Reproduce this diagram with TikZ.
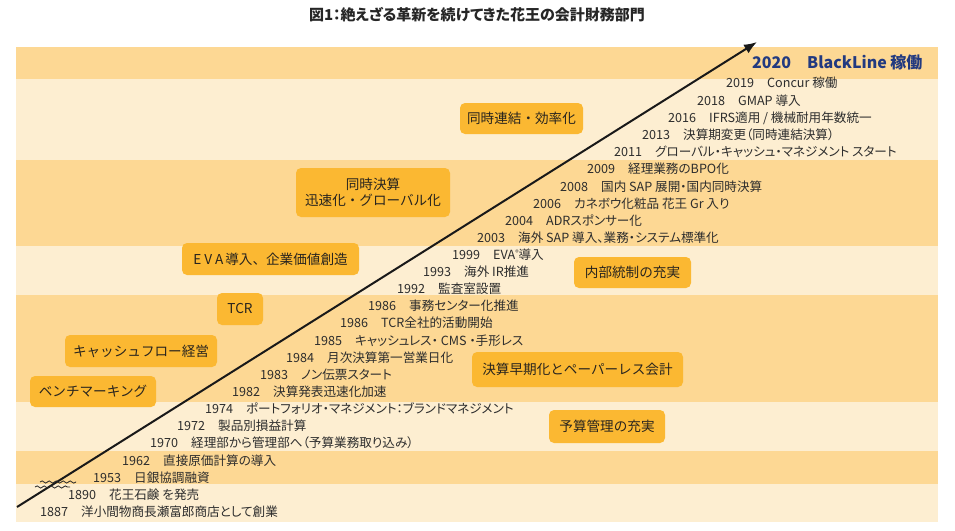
\documentclass[tikz,border=0pt]{standalone}
\usepackage{fontspec}
\setmainfont{Noto Sans CJK JP}
\newfontfamily\itemfont{Noto Sans CJK JP}[RawFeature=+palt]
\usetikzlibrary{arrows.meta,decorations.pathmorphing}
\definecolor{bandD}{RGB}{253,216,148}
\definecolor{bandL}{RGB}{253,238,209}
\definecolor{boxc}{RGB}{251,184,50}
\definecolor{txt}{RGB}{45,45,45}
\definecolor{boxtxt}{RGB}{40,36,30}
\definecolor{navy}{RGB}{34,58,128}
\newcommand\yline[2]{#1\hspace{13pt}#2}
\begin{document}
\begin{tikzpicture}[x=1pt,y=-1pt,
  item/.style={anchor=west,inner sep=0pt,text=txt,font=\itemfont\fontsize{12.6}{14}\selectfont,text height=10pt,text depth=1pt},
  tag/.style={fill=boxc,rounded corners=5pt,text=boxtxt,font=\fontsize{13.6}{16}\selectfont,inner sep=0pt,align=center},
  wave/.style={draw=black!85,line width=0.8pt,decorate,decoration={snake,segment length=7pt,amplitude=1.1pt}},
  mainarrow/.style={draw=black!90,line width=2pt,-{Latex[length=13pt,width=10pt]}}]
\useasboundingbox (0,0) rectangle (955,530);
\fill[white] (0,0) rectangle (955,530);
% bands
\fill[bandD] (16,47) rectangle (938,79);
\fill[bandL] (16,79) rectangle (938,160);
\fill[bandD] (16,160) rectangle (938,246);
\fill[bandL] (16,246) rectangle (938,295);
\fill[bandD] (16,295) rectangle (938,402);
\fill[bandL] (16,402) rectangle (938,451);
\fill[bandD] (16,451) rectangle (938,484);
\fill[bandL] (16,484) rectangle (938,522);
% title
\node[font=\itemfont\fontsize{15}{16}\bfseries\selectfont,text=black!85,inner sep=0pt] (title) at (477,15) {図1：絶えざる革新を続けてきた花王の会計財務部門};
% arrow
\coordinate (astart) at (17,507);
\coordinate (aend) at (757,42);
\draw[mainarrow] (astart) -- (aend);
\coordinate (w1a) at (40,482); \coordinate (w1b) at (76,482);
\coordinate (w2a) at (35,487); \coordinate (w2b) at (70,487);
\draw[wave] (w1a) -- (w1b);
\draw[wave] (w2a) -- (w2b);
% timeline items
\node[anchor=west,inner sep=0pt,text=navy,font=\itemfont\fontsize{16}{18}\bfseries\selectfont,text height=12pt,text depth=2pt] (y2020) at (752,63) {2020\hspace{16pt}BlackLine 稼働};
\node[item] (y2019) at (726,83) {\yline{2019}{Concur 稼働}};
\node[item] (y2018) at (697,101) {\yline{2018}{GMAP 導入}};
\node[item] (y2016) at (668,118) {\yline{2016}{IFRS適用 / 機械耐用年数統一}};
\node[item] (y2013) at (642,135) {\yline{2013}{決算期変更（同時連結決算）}};
\node[item] (y2011) at (614,152) {\yline{2011}{グローバル・キャッシュ・マネジメント スタート}};
\node[item] (y2009) at (587,169) {\yline{2009}{経理業務のBPO化}};
\node[item] (y2008) at (560,187) {\yline{2008}{国内 SAP 展開・国内同時決算}};
\node[item] (y2006) at (533,204) {\yline{2006}{カネボウ化粧品 花王 Gr 入り}};
\node[item] (y2004) at (505,221) {\yline{2004}{ADRスポンサー化}};
\node[item] (y2003) at (477,238) {\yline{2003}{海外 SAP 導入、業務・システム標準化}};
\node[item] (y1999) at (452,255) {\yline{1999}{EVA\raisebox{0.35em}{\fontsize{7}{7}\selectfont ®}導入}};
\node[item] (y1993) at (423,272) {\yline{1993}{海外 IR推進}};
\node[item] (y1992) at (397,289) {\yline{1992}{監査室設置}};
\node[item] (y1986a) at (368,306) {\yline{1986}{事務センター化推進}};
\node[item] (y1986b) at (340,323) {\yline{1986}{TCR全社的活動開始}};
\node[item] (y1985) at (314,341) {\yline{1985}{キャッシュレス・ CMS ・手形レス}};
\node[item] (y1984) at (286,358) {\yline{1984}{月次決算第一営業日化}};
\node[item] (y1983) at (260,375) {\yline{1983}{ノン伝票スタート}};
\node[item] (y1982) at (232,392) {\yline{1982}{決算発表迅速化加速}};
\node[item] (y1974) at (205,409) {\yline{1974}{ポートフォリオ・マネジメント：ブランドマネジメント}};
\node[item] (y1972) at (177,426) {\yline{1972}{製品別損益計算}};
\node[item] (y1970) at (150,443) {\yline{1970}{経理部から管理部へ（予算業務取り込み）}};
\node[item] (y1962) at (122,461) {\yline{1962}{直接原価計算の導入}};
\node[item] (y1953) at (93,478) {\yline{1953}{日銀協調融資}};
\node[item] (y1890) at (68,495) {\yline{1890}{花王石鹸 を発売}};
\node[item] (y1887) at (40,512) {\yline{1887}{洋小間物商長瀬富郎商店として創業}};
% theme boxes
\node[tag,minimum width=123pt,minimum height=31pt] (b1) at (521.5,118.5) {同時連結・効率化};
\node[tag,minimum width=154pt,minimum height=49pt] (b2) at (373,192.5) {同時決算\\迅速化・グローバル化};
\node[tag,minimum width=177pt,minimum height=32pt] (b3) at (270.5,259) {E\hspace{3pt}V\hspace{3pt}A\hspace{2pt}導入、企業価値創造};
\node[tag,minimum width=117pt,minimum height=31pt] (b4) at (632.5,272.5) {内部統制の充実};
\node[tag,minimum width=46pt,minimum height=32pt] (b5) at (240,309) {TCR};
\node[tag,minimum width=152pt,minimum height=32pt] (b6) at (141,351) {キャッシュフロー経営};
\node[tag,minimum width=126pt,minimum height=31pt] (b7) at (93,391.5) {ベンチマーキング};
\node[tag,minimum width=211pt,minimum height=35pt] (b8) at (577.5,369.5) {決算早期化とペーパーレス会計};
\node[tag,minimum width=116pt,minimum height=33pt] (b9) at (607,426.5) {予算管理の充実};
\end{tikzpicture}
\end{document}
